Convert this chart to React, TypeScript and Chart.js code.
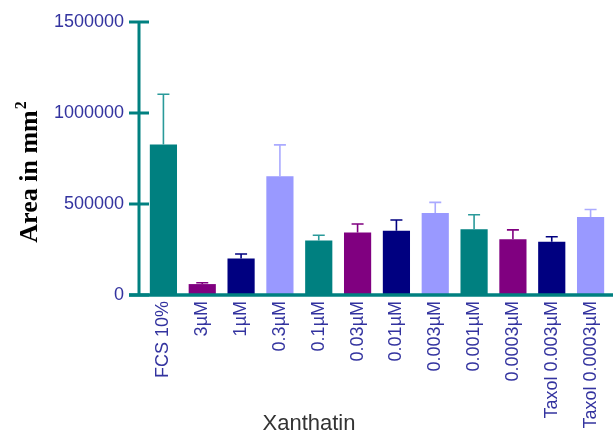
import React, { useEffect, useRef } from "react";
import { Chart, registerables } from "chart.js";

Chart.register(...registerables);

const categories = [
  "FCS 10%", "3µM", "1µM", "0.3µM", "0.1µM", "0.03µM", "0.01µM",
  "0.003µM", "0.001µM", "0.0003µM", "Taxol 0.003µM", "Taxol 0.0003µM",
];
const areaValues = [
  827000, 60000, 201000, 653000, 300000, 344000, 353000,
  450000, 361000, 306000, 293000, 428000,
];
const areaErrors = [
  276000, 7000, 24000, 172000, 28000, 46000, 59000,
  59000, 80000, 52000, 27000, 42000,
];
const yTicks = [0, 500000, 1000000, 1500000];
const barColors = [
  "#008080", "#800080", "#000080", "#9999FF",
  "#008080", "#800080", "#000080", "#9999FF",
  "#008080", "#800080", "#000080", "#9999FF",
];
const errColors = [
  "#2A9A9A", "#800080", "#000080", "#AAAAFF",
  "#2A9A9A", "#800080", "#000080", "#AAAAFF",
  "#2A9A9A", "#800080", "#000080", "#AAAAFF",
];

const AXIS = "#008080";
const LABEL = "#33339F";

const customPlugin = {
  id: "custom",
  beforeDatasetsDraw(chart: any) {
    const { ctx, chartArea, scales } = chart;
    const y = scales.y;
    const ax = chartArea.left - 5;
    ctx.save();
    ctx.strokeStyle = AXIS;
    ctx.lineWidth = 3;
    ctx.lineCap = "butt";
    ctx.beginPath();
    ctx.moveTo(ax, y.getPixelForValue(1500000));
    ctx.lineTo(ax, y.getPixelForValue(0));
    ctx.stroke();
    yTicks.forEach((v) => {
      const py = y.getPixelForValue(v);
      ctx.beginPath();
      ctx.moveTo(ax - 10, py);
      ctx.lineTo(ax + 10, py);
      ctx.stroke();
    });
    ctx.restore();
  },
  afterDatasetsDraw(chart: any) {
    const { ctx, chartArea, scales, width } = chart;
    const y = scales.y;
    const meta = chart.getDatasetMeta(0);
    ctx.save();
    meta.data.forEach((bar: any, i: number) => {
      const top = y.getPixelForValue(areaValues[i] + areaErrors[i]);
      ctx.strokeStyle = errColors[i];
      ctx.lineWidth = 1.6;
      ctx.beginPath();
      ctx.moveTo(bar.x, bar.y);
      ctx.lineTo(bar.x, top);
      ctx.moveTo(bar.x - 6, top);
      ctx.lineTo(bar.x + 6, top);
      ctx.stroke();
    });
    const ax = chartArea.left - 5;
    const zy = y.getPixelForValue(0);
    ctx.strokeStyle = AXIS;
    ctx.lineWidth = 3.5;
    ctx.beginPath();
    ctx.moveTo(ax - 10, zy);
    ctx.lineTo(width, zy);
    ctx.stroke();

    ctx.fillStyle = "#333333";
    ctx.font = "22px 'Liberation Sans', Arial, sans-serif";
    ctx.textAlign = "center";
    ctx.textBaseline = "alphabetic";
    ctx.fillText("Xanthatin", 309, 430);

    ctx.translate(37, 172);
    ctx.rotate(-Math.PI / 2);
    ctx.fillStyle = "#000000";
    const mainFont = "bold 26px 'Liberation Serif', 'Times New Roman', serif";
    const supFont = "bold 16px 'Liberation Serif', 'Times New Roman', serif";
    ctx.font = mainFont;
    const mainText = "Area in mm";
    const w1 = ctx.measureText(mainText).width;
    ctx.font = supFont;
    const w2 = ctx.measureText("2").width;
    const total = w1 + w2 + 1;
    ctx.textAlign = "left";
    ctx.font = mainFont;
    ctx.fillText(mainText, -total / 2, 0);
    ctx.font = supFont;
    ctx.fillText("2", -total / 2 + w1 + 1, -11);
    ctx.restore();
  },
};

export default function App() {
  const canvasRef = useRef<HTMLCanvasElement | null>(null);

  useEffect(() => {
    const canvas = canvasRef.current;
    if (!canvas) return;
    const chart = new Chart(canvas, {
      type: "bar",
      data: {
        labels: categories,
        datasets: [
          {
            data: areaValues,
            backgroundColor: barColors,
            borderWidth: 0,
            barPercentage: 0.7,
            categoryPercentage: 1,
          },
        ],
      },
      options: {
        responsive: false,
        animation: false,
        layout: { padding: { top: 22, right: 3, left: 0, bottom: 0 } },
        plugins: {
          legend: { display: false },
          tooltip: { enabled: false },
          title: { display: false },
        },
        scales: {
          x: {
            type: "category",
            offset: true,
            border: { display: false },
            grid: {
              display: true,
              drawOnChartArea: false,
              drawTicks: true,
              tickLength: 6,
              color: "rgba(0,0,0,0)",
            },
            ticks: {
              color: LABEL,
              font: { family: "'Liberation Sans', Arial, sans-serif", size: 18 },
              maxRotation: 90,
              minRotation: 90,
              padding: 0,
              autoSkip: false,
            },
            afterFit: (scale: any) => {
              scale.height = 142;
            },
          },
          y: {
            min: 0,
            max: 1500000,
            border: { display: false },
            grid: {
              display: true,
              drawOnChartArea: false,
              drawTicks: true,
              tickLength: 20,
              color: "rgba(0,0,0,0)",
            },
            ticks: {
              stepSize: 500000,
              color: LABEL,
              font: { family: "'Liberation Sans', Arial, sans-serif", size: 18 },
              padding: 0,
              callback: (v: any) => String(v),
            },
            afterFit: (scale: any) => {
              scale.width = 144;
            },
          },
        },
      },
      plugins: [customPlugin],
    });
    return () => chart.destroy();
  }, []);

  return (
    <div style={{ position: "absolute", left: 0, top: 0, width: 613, height: 437, background: "#fff" }}>
      <canvas ref={canvasRef} width={613} height={437} />
    </div>
  );
}
